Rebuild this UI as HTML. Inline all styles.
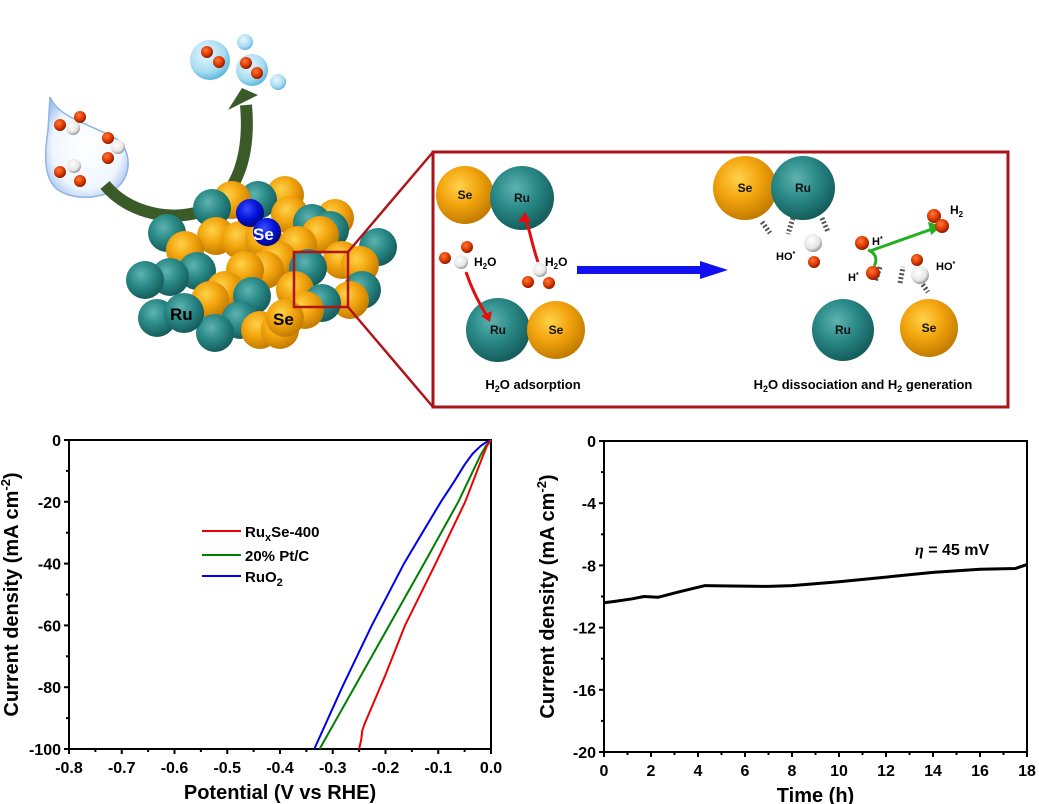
<!DOCTYPE html>
<html><head><meta charset="utf-8"><style>
html,body{margin:0;padding:0;background:#fff;}
svg{display:block;font-family:"Liberation Sans",Arial,sans-serif;}
</style></head><body>
<svg id="s" width="1039" height="804" viewBox="0 0 1039 804" xmlns="http://www.w3.org/2000/svg">
<defs>
<radialGradient id="gT" cx="40%" cy="35%" r="65%"><stop offset="0" stop-color="#5fb3b0"/><stop offset="0.5" stop-color="#2a8a88"/><stop offset="1" stop-color="#155e5c"/></radialGradient>
<radialGradient id="gO" cx="40%" cy="35%" r="65%"><stop offset="0" stop-color="#ffd24a"/><stop offset="0.5" stop-color="#f3a50e"/><stop offset="1" stop-color="#c47c00"/></radialGradient>
<radialGradient id="gB" cx="40%" cy="35%" r="65%"><stop offset="0" stop-color="#3a4dff"/><stop offset="0.6" stop-color="#0010d8"/><stop offset="1" stop-color="#000880"/></radialGradient>
<radialGradient id="gR" cx="40%" cy="35%" r="65%"><stop offset="0" stop-color="#ff7a3a"/><stop offset="0.6" stop-color="#e03a00"/><stop offset="1" stop-color="#8a1a00"/></radialGradient>
<radialGradient id="gW" cx="40%" cy="35%" r="65%"><stop offset="0" stop-color="#fff"/><stop offset="0.7" stop-color="#e6e6e6"/><stop offset="1" stop-color="#999"/></radialGradient>
<radialGradient id="gBub" cx="40%" cy="35%" r="65%"><stop offset="0" stop-color="#e8f7ff"/><stop offset="0.7" stop-color="#a8dcf2"/><stop offset="1" stop-color="#5fb8e0"/></radialGradient>
<radialGradient id="gDrop" cx="50%" cy="50%" r="60%"><stop offset="0" stop-color="#fff"/><stop offset="0.7" stop-color="#f0f6ff"/><stop offset="1" stop-color="#9fc0ee"/></radialGradient>
</defs>
<g id="topg"></g>
<g id="charts"></g>
</svg>
<script>
(function(){
const NS="http://www.w3.org/2000/svg";
const topG=document.getElementById('topg'), ch=document.getElementById('charts');
function el(p,tag,a,txt){const e=document.createElementNS(NS,tag);for(const k in a)e.setAttribute(k,a[k]);if(txt!==undefined)e.innerHTML=txt;p.appendChild(e);return e;}
function ball(x,y,r,g){if(r>0)el(topG,'circle',{cx:x,cy:y,r:r,fill:'url(#'+g+')'});}
el(topG,'path',{d:'M50,97 C60,120 95,125 118,140 C135,155 130,185 108,193 C90,200 70,198 58,190 C42,178 45,150 48,130 Z',fill:'url(#gDrop)',stroke:'#8fb4e6','stroke-width':1.5});
[[60,125,'gR'],[80,117,'gR'],[73,128,'gW'],[108,138,'gR'],[118,147,'gW'],[108,158,'gR'],[60,172,'gR'],[74,166,'gW'],[80,181,'gR']].forEach(b=>ball(b[0],b[1],b[2]=='gW'?7:6,b[2]));
ball(210,60,20,'gBub');ball(252,70,16,'gBub');ball(245,42,8,'gBub');ball(278,82,8,'gBub');
ball(207,52,6,'gR');ball(219,62,6,'gR');ball(246,63,6,'gR');ball(257,73,6,'gR');
el(topG,'path',{d:'M105,185 C130,215 175,222 205,210 C240,195 250,150 246,105',fill:'none',stroke:'#3a5a28','stroke-width':12});
el(topG,'path',{d:'M228,110 L242,88 L258,95 Z',fill:'#3a5a28'});
const TL=[[167,233],[212,208],[258,200],[312,223],[170,277],[145,280],[197,271],[157,318],[185,313],[378,247],[362,290],[308,268],[252,296],[322,303],[215,333],[240,320],[330,230]];
const OL=[[232,200],[285,195],[290,215],[216,236],[240,240],[185,250],[264,240],[278,260],[335,218],[320,235],[342,260],[360,265],[225,290],[265,270],[245,270],[295,290],[305,310],[260,330],[280,330],[210,300],[350,300],[298,245]];
const all=[];TL.forEach(p=>all.push([p[0],p[1],'gT']));OL.forEach(p=>all.push([p[0],p[1],'gO']));
all.sort((a,b)=>a[1]-b[1]);all.forEach(b=>ball(b[0],b[1],19,b[2]));
ball(184,313,20,'gT');ball(285,318,19,'gO');
ball(250,213,14,'gB');ball(267,232,14,'gB');
el(topG,'text',{x:253,y:240,fill:'#fff','font-size':17,'font-weight':'bold'},'Se');
el(topG,'text',{x:170,y:320,fill:'#000','font-size':17,'font-weight':'bold'},'Ru');
el(topG,'text',{x:273,y:325,fill:'#000','font-size':17,'font-weight':'bold'},'Se');
el(topG,'rect',{x:294,y:252,width:54,height:55,fill:'none',stroke:'#b0151a','stroke-width':2.5});
el(topG,'line',{x1:348,y1:252,x2:433,y2:152,stroke:'#b0151a','stroke-width':2.5});
el(topG,'line',{x1:348,y1:307,x2:433,y2:407,stroke:'#b0151a','stroke-width':2.5});
el(topG,'rect',{x:433,y:152,width:575,height:255,fill:'#fff',stroke:'#a8141a','stroke-width':3});
function ib(x,y,r,g,l){ball(x,y,r,g);el(topG,'text',{x:x,y:y+4,'text-anchor':'middle','font-size':12,'font-weight':'bold',fill:'#111'},l);}
ib(465,195,29,'gO','Se');ib(522,198,32,'gT','Ru');ib(498,330,32,'gT','Ru');ib(556,330,29,'gO','Se');
ib(745,188,32,'gO','Se');ib(803,188,32,'gT','Ru');ib(843,330,31,'gT','Ru');ib(929,328,29,'gO','Se');
ball(445,258,6,'gR');ball(467,247,6,'gR');ball(461,262,7,'gW');
el(topG,'text',{x:474,y:266,'font-size':12,'font-weight':'bold'},'H<tspan dy="3" font-size="8">2</tspan><tspan dy="-3">O</tspan>');
ball(528,282,6,'gR');ball(549,283,6,'gR');ball(540,270,7,'gW');
el(topG,'text',{x:545,y:266,'font-size':12,'font-weight':'bold'},'H<tspan dy="3" font-size="8">2</tspan><tspan dy="-3">O</tspan>');
el(topG,'path',{d:'M466,272 C472,290 480,305 488,318',fill:'none',stroke:'#e01010','stroke-width':3});
el(topG,'path',{d:'M481,316 L490,322 L492,311 Z',fill:'#e01010'});
el(topG,'path',{d:'M538,262 C532,245 530,230 525,218',fill:'none',stroke:'#e01010','stroke-width':3});
el(topG,'path',{d:'M518,222 L525,212 L531,222 Z',fill:'#e01010'});
el(topG,'rect',{x:577,y:266,width:125,height:8,fill:'#1010f0'});
el(topG,'path',{d:'M700,261 L728,270 L700,279 Z',fill:'#1010f0'});
[[762,222,770,233],[793,218,788,234],[822,218,828,232],[880,267,875,282],[900,283,903,267],[918,278,928,292]].forEach(d=>el(topG,'line',{x1:d[0],y1:d[1],x2:d[2],y2:d[3],stroke:'#555','stroke-width':5,'stroke-dasharray':'2,2'}));
ball(813,243,9,'gW');ball(814,262,6,'gR');
el(topG,'text',{x:776,y:260,'font-size':11,'font-weight':'bold'},'HO<tspan dy="-4" font-size="7">*</tspan>');
ball(862,243,7,'gR');el(topG,'text',{x:872,y:245,'font-size':11,'font-weight':'bold'},'H<tspan dy="-4" font-size="7">*</tspan>');
ball(873,273,7,'gR');el(topG,'text',{x:848,y:281,'font-size':11,'font-weight':'bold'},'H<tspan dy="-4" font-size="7">*</tspan>');
ball(917,260,6,'gR');ball(920,275,9,'gW');el(topG,'text',{x:936,y:270,'font-size':11,'font-weight':'bold'},'HO<tspan dy="-4" font-size="7">*</tspan>');
el(topG,'path',{d:'M868,250 C880,255 875,265 874,266 M870,251 L935,228',fill:'none',stroke:'#22b022','stroke-width':3});
el(topG,'path',{d:'M928,222 L942,226 L931,235 Z',fill:'#22b022'});
ball(934,216,7,'gR');ball(942,226,7,'gR');
el(topG,'text',{x:950,y:214,'font-size':12,'font-weight':'bold'},'H<tspan dy="3" font-size="8">2</tspan>');
el(topG,'text',{x:533,y:389,'font-size':13,'font-weight':'bold','text-anchor':'middle'},'H<tspan dy="3" font-size="9">2</tspan><tspan dy="-3">O adsorption</tspan>');
el(topG,'text',{x:863,y:389,'font-size':13,'font-weight':'bold','text-anchor':'middle'},'H<tspan dy="3" font-size="9">2</tspan><tspan dy="-3">O dissociation and H</tspan><tspan dy="3" font-size="9">2</tspan><tspan dy="-3"> generation</tspan>');

function chart(x0,x1,y0,y1,xmin,xmax,xstep,ymin,ymax,ystep,xl,yl,xfmt,yoff){
  const X=v=>x0+(v-xmin)/(xmax-xmin)*(x1-x0), Y=v=>y0+(ymax-v)/(ymax-ymin)*(y1-y0);
  el(ch,'rect',{x:x0,y:y0,width:x1-x0,height:y1-y0,fill:'none',stroke:'#000','stroke-width':2});
  const nx=Math.round((xmax-xmin)/xstep);
  for(let i=0;i<=nx*2;i++){const v=xmin+i*xstep/2,px=X(v);el(ch,'line',{x1:px,y1:y1,x2:px,y2:y1+(i%2?3:5),stroke:'#000','stroke-width':2});
    if(i%2==0)el(ch,'text',{x:px,y:y1+24,'text-anchor':'middle','font-size':16,'font-weight':'bold'},xfmt(v));}
  const ny=Math.round((ymax-ymin)/ystep);
  for(let i=0;i<=ny*2;i++){const v=ymin+i*ystep/2,py=Y(v);el(ch,'line',{x1:x0,y1:py,x2:x0-(i%2?3:5),y2:py,stroke:'#000','stroke-width':2});
    if(i%2==0)el(ch,'text',{x:x0-8,y:py+6,'text-anchor':'end','font-size':16,'font-weight':'bold'},String(Math.round(v)));}
  el(ch,'text',{x:(x0+x1)/2,y:y1+50,'text-anchor':'middle','font-size':20,'font-weight':'bold'},xl);
  el(ch,'text',{transform:'translate('+(x0-yoff)+','+((y0+y1)/2)+') rotate(-90)','text-anchor':'middle','font-size':20,'font-weight':'bold'},yl);
  return [X,Y];
}
function line(X,Y,pts,col,w){let d='';pts.forEach((p,i)=>d+=(i?'L':'M')+X(p[0]).toFixed(1)+','+Y(p[1]).toFixed(1));el(ch,'path',{d:d,fill:'none',stroke:col,'stroke-width':w,'stroke-linejoin':'round'});}
const yl='Current density (mA cm<tspan dy="-8" font-size="13">-2</tspan><tspan dy="8">)</tspan>';
let r=chart(69,491,440,749,-0.8,0,0.1,-100,0,20,'Potential (V vs RHE)',yl,v=>v.toFixed(1),51);
let X=r[0],Y=r[1];
line(X,Y,[[0,0],[-0.01,-0.8],[-0.02,-2],[-0.035,-4.5],[-0.05,-8],[-0.07,-13.5],[-0.095,-20],[-0.13,-30],[-0.165,-40],[-0.226,-60],[-0.282,-80],[-0.335,-100]],'#0000ee',2);
line(X,Y,[[0,0],[-0.01,-2],[-0.02,-5],[-0.062,-20],[-0.127,-40],[-0.193,-60],[-0.259,-80],[-0.325,-100]],'#008000',2);
line(X,Y,[[0,0],[-0.008,-2],[-0.015,-5],[-0.049,-20],[-0.105,-40],[-0.163,-60],[-0.2,-76],[-0.24,-92],[-0.244,-94],[-0.246,-97],[-0.25,-100]],'#ee0000',2);
[['#ee0000',531,'Ru<tspan dy="4" font-size="11">x</tspan><tspan dy="-4">Se-400</tspan>'],['#008000',555,'20% Pt/C'],['#0000ee',576,'RuO<tspan dy="4" font-size="11">2</tspan>']].forEach(l=>{
 el(ch,'line',{x1:202,y1:l[1],x2:241,y2:l[1],stroke:l[0],'stroke-width':2});
 el(ch,'text',{x:245,y:l[1]+6,'font-size':15,'font-weight':'bold'},l[2]);});
r=chart(604,1027,441,752,0,18,2,-20,0,4,'Time (h)',yl,v=>String(Math.round(v)),50);
X=r[0];Y=r[1];
line(X,Y,[[0,-10.4],[0.5,-10.3],[1.2,-10.15],[1.7,-10.0],[2.3,-10.05],[3.2,-9.7],[4.3,-9.3],[5,-9.32],[7,-9.35],[8,-9.3],[10,-9.05],[12,-8.75],[14,-8.45],[16,-8.25],[17.5,-8.2],[18,-7.95]],'#000',3);
el(ch,'text',{x:915,y:555,'font-size':16,'font-weight':'bold'},'<tspan font-style="italic" font-family="Liberation Serif">η</tspan> = 45 mV');
})();
</script>
</body></html>
